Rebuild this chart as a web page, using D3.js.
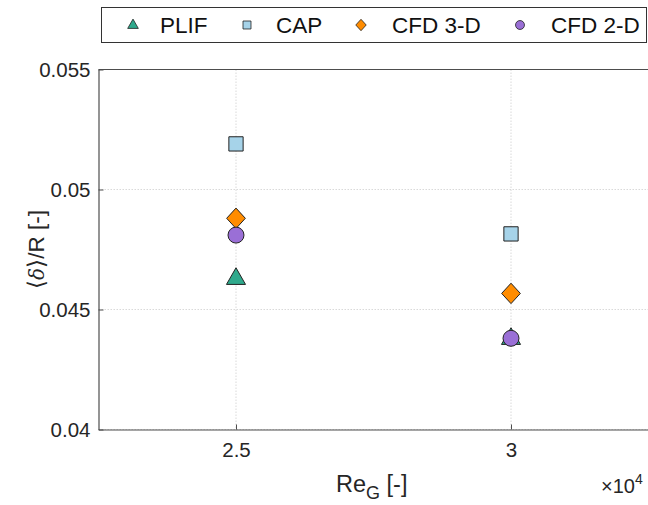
<!DOCTYPE html>
<html>
<head>
<meta charset="utf-8">
<script src="https://cdn.jsdelivr.net/npm/d3@7"></script>
<style>
  body { margin: 0; background: #fff; }
  svg { display: block; font-family: "Liberation Sans", Arial, sans-serif; }
</style>
</head>
<body>
<svg id="chart" width="648" height="505"></svg>
<script>
// Mean film thickness vs. gas Reynolds number
const reynolds = [25000, 30000];
const seriesNames = ["PLIF", "CAP", "CFD 3-D", "CFD 2-D"];
const plif  = [0.0463, 0.0438];
const cap   = [0.0519, 0.04815];
const cfd3d = [0.0488, 0.04567];
const cfd2d = [0.0481, 0.0438];
const xTicks = [25000, 30000];
const yTicks = [0.04, 0.045, 0.05, 0.055];

const colors = ["#2fa98c", "#a6d3e9", "#ff8c00", "#9a6fd6"];
const shapes = ["triangle", "square", "diamond", "circle"];
const values = [plif, cap, cfd3d, cfd2d];

const svg = d3.select("#chart");
const L = 98.5, R = 648.5, T = 69.5, B = 429.5;

const x = d3.scaleLinear().domain([22500, 32500]).range([L, R]);
const y = d3.scaleLinear().domain([0.04, 0.055]).range([B, T]);

const axisColor = "#4d4d4d";
const textColor = "#262626";

// grid
const grid = svg.append("g");
grid.selectAll("line.gx").data(xTicks).join("line")
  .attr("x1", d => x(d)).attr("x2", d => x(d)).attr("y1", T).attr("y2", B)
  .attr("stroke", "#cfcfcf").attr("stroke-width", 0.8).attr("stroke-dasharray", "1.5,1.5");
grid.selectAll("line.gy").data(yTicks).join("line")
  .attr("x1", L).attr("x2", R).attr("y1", d => y(d)).attr("y2", d => y(d))
  .attr("stroke", "#cfcfcf").attr("stroke-width", 0.8).attr("stroke-dasharray", "1.5,1.5");

// axes
const xAxis = d3.axisBottom(x).tickValues(xTicks).tickFormat(d => d / 1e4).tickSizeInner(-5).tickSizeOuter(0).tickPadding(13);
const yAxis = d3.axisLeft(y).tickValues(yTicks).tickFormat(d => d3.format("")(+d.toFixed(3))).tickSizeInner(-5).tickSizeOuter(0).tickPadding(8);

const gx = svg.append("g").attr("transform", `translate(0,${B})`).call(xAxis);
const gy = svg.append("g").attr("transform", `translate(${L},0)`).call(yAxis);
[gx, gy].forEach(g => {
  g.attr("font-size", 20.5).attr("font-family", "Liberation Sans, Arial, sans-serif");
  g.select(".domain").attr("stroke", axisColor).attr("stroke-width", 1.2);
  g.selectAll(".tick line").attr("stroke", axisColor).attr("stroke-width", 1);
  g.selectAll(".tick text").attr("fill", textColor).attr("font-size", 20.5);
});
// top border
svg.append("line").attr("x1", L).attr("x2", R).attr("y1", T).attr("y2", T)
  .attr("stroke", axisColor).attr("stroke-width", 1.2);

// axis labels
const xl = svg.append("text").attr("x", 336).attr("y", 492)
  .attr("font-size", 23.5).attr("fill", textColor);
xl.append("tspan").text("Re");
xl.append("tspan").attr("font-size", 18).attr("dy", 7).text("G");
xl.append("tspan").attr("dy", -7).text(" [-]");

const ex = svg.append("text").attr("x", 601).attr("y", 493).attr("font-size", 20).attr("fill", textColor);
ex.append("tspan").text("\u00d710");
ex.append("tspan").attr("font-size", 14).attr("dy", -9).text("4");

const yl = svg.append("text").attr("transform", `translate(44,${(T + B) / 2}) rotate(-90)`)
  .attr("text-anchor", "middle").attr("font-size", 22.5).attr("fill", textColor);
yl.append("tspan").text("\u27e8");
yl.append("tspan").attr("font-style", "italic").attr("font-family", "DejaVu Serif, serif").attr("font-size", 20).text("\u03b4");
yl.append("tspan").text("\u27e9/R [-]");

// marker paths
function markerPath(shape, s) {
  switch (shape) {
    case "triangle": return `M0,${-s * 0.62}L${s * 0.56},${s * 0.36}L${-s * 0.56},${s * 0.36}Z`;
    case "square": return `M${-s * 0.42},${-s * 0.42}h${s * 0.84}v${s * 0.84}h${-s * 0.84}Z`;
    case "diamond": return `M0,${-s * 0.6}L${s * 0.55},0L0,${s * 0.6}L${-s * 0.55},0Z`;
    case "circle": return d3.arc()({ innerRadius: 0, outerRadius: s * 0.47, startAngle: 0, endAngle: 2 * Math.PI });
  }
}

// points
const pts = svg.append("g");
values.forEach((vals, i) => {
  pts.selectAll(null).data(vals.map((v, j) => ({ x: reynolds[j], y: v }))).join("path")
    .attr("transform", d => `translate(${x(d.x)},${y(d.y)})`)
    .attr("d", markerPath(shapes[i], 17))
    .attr("fill", colors[i]).attr("stroke", "#222").attr("stroke-width", 1);
});

// legend
const lg = svg.append("g");
lg.append("rect").attr("x", 101.5).attr("y", 7.5).attr("width", 545).attr("height", 35)
  .attr("fill", "#fff").attr("stroke", "#333").attr("stroke-width", 1);
const legX = [133, 247, 361, 520];
const txtX = [160, 276, 392, 551];
seriesNames.forEach((n, i) => {
  lg.append("path").attr("transform", `translate(${legX[i]},25)`)
    .attr("d", markerPath(shapes[i], 9.5))
    .attr("fill", colors[i]).attr("stroke", "#222").attr("stroke-width", 0.8);
  lg.append("text").attr("x", txtX[i]).attr("y", 33).attr("font-size", 22.5).attr("fill", "#111").text(n);
});
</script>
</body>
</html>
